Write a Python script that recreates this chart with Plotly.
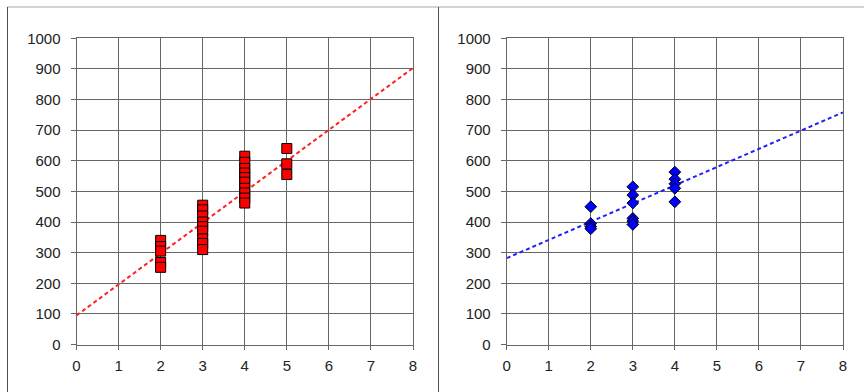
import plotly.graph_objects as go

# ---- data ----
left_x = [2]*5 + [3]*9 + [4]*10 + [5]*3
left_y = [340, 320, 305, 268, 252,
          455, 440, 420, 400, 385, 370, 345, 330, 310,
          615, 595, 575, 560, 545, 530, 510, 495, 478, 462,
          640, 590, 555]
right_x = [2]*4 + [3]*6 + [4]*5
right_y = [450, 395, 385, 378,
           515, 488, 462, 412, 403, 392,
           563, 540, 525, 510, 466]
left_trend = [95, 101]      # intercept, slope
right_trend = [282, 59.5]   # intercept, slope
trend_x = [0, 8]
x_ticks = [0, 1, 2, 3, 4, 5, 6, 7, 8]
y_ticks = [0, 100, 200, 300, 400, 500, 600, 700, 800, 900, 1000]

W, H = 864, 392
fig = go.Figure()

fig.add_trace(go.Scatter(
    x=trend_x, y=[left_trend[0] + left_trend[1]*v for v in trend_x],
    mode="lines", line=dict(color="#ff2020", width=2, dash="4px,3px"),
    xaxis="x", yaxis="y", showlegend=False, hoverinfo="skip"))
fig.add_trace(go.Scatter(
    x=left_x, y=left_y, mode="markers",
    marker=dict(symbol="square", size=10, color="#ff0000",
                line=dict(color="#000000", width=1)),
    xaxis="x", yaxis="y", showlegend=False))

fig.add_trace(go.Scatter(
    x=trend_x, y=[right_trend[0] + right_trend[1]*v for v in trend_x],
    mode="lines", line=dict(color="#2020ff", width=2, dash="4px,3px"),
    xaxis="x2", yaxis="y2", showlegend=False, hoverinfo="skip"))
fig.add_trace(go.Scatter(
    x=right_x, y=right_y, mode="markers",
    marker=dict(symbol="diamond", size=9, color="#0000ff",
                line=dict(color="#000000", width=1)),
    xaxis="x2", yaxis="y2", showlegend=False))

ydom = [1 - 344.5/H, 1 - 38.3/H]
font = dict(family="Liberation Sans, Arial, sans-serif", size=15, color="#222222")

def xax(dom, anchor):
    return dict(domain=dom, anchor=anchor, range=[0, 8], tickvals=x_ticks,
                showgrid=True, gridcolor="#666666", gridwidth=1,
                showline=True, linecolor="#666666", linewidth=1, mirror=True,
                ticks="outside", ticklen=4, tickcolor="#666666", ticklabelstandoff=3,
                zeroline=False, tickfont=font, fixedrange=True, automargin=False)

def yax(anchor):
    return dict(domain=ydom, anchor=anchor, range=[0, 1000], tickvals=y_ticks,
                showgrid=True, gridcolor="#666666", gridwidth=1,
                showline=True, linecolor="#666666", linewidth=1, mirror=True,
                ticks="outside", ticklen=5, tickcolor="#666666", ticklabelstandoff=7,
                zeroline=False, tickfont=font, fixedrange=True, automargin=False)

fig.update_layout(
    width=W, height=H, margin=dict(l=0, r=0, t=0, b=0, autoexpand=False),
    paper_bgcolor="white", plot_bgcolor="white",
    xaxis=xax([76.5/W, 413/W], "y"),
    yaxis=yax("x"),
    xaxis2=xax([506.7/W, 843/W], "y2"),
    yaxis2=yax("x2"),
    shapes=[
        dict(type="line", xref="paper", yref="paper", x0=7/W, x1=1, y0=1-7/H, y1=1-7/H,
             line=dict(color="#a8a8a8", width=1)),
        dict(type="line", xref="paper", yref="paper", x0=7.5/W, x1=7.5/W, y0=0, y1=1-7/H,
             line=dict(color="#505050", width=1)),
        dict(type="line", xref="paper", yref="paper", x0=438.5/W, x1=438.5/W, y0=0, y1=1-7/H,
             line=dict(color="#505050", width=1)),
    ],
)

fig.write_html("out.html", config={"displayModeBar": False},
               post_script="document.body.style.margin='0';document.body.style.overflow='hidden';")
